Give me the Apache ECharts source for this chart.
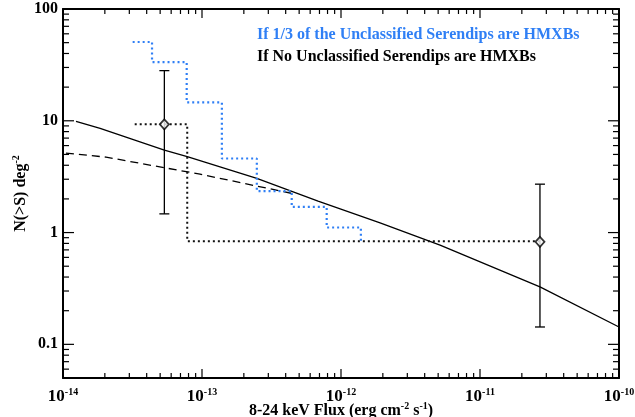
<!DOCTYPE html>
<html>
<head>
<meta charset="utf-8">
<script src="https://cdn.jsdelivr.net/npm/echarts@6/dist/echarts.min.js"></script>
<style>
html, body { margin: 0; padding: 0; background: #fff; }
#main { width: 635px; height: 417px; }
</style>
</head>
<body>
<div id="main"></div>
<script>
// 模型曲线 (实线)
var modelX = [1.24e-14, 1.85e-14, 5.36e-14, 7.83e-14, 2.48e-13, 6.84e-13, 1.91e-12, 5.16e-12, 2.70e-11, 1e-10];
var modelY = [9.9, 8.55, 5.47, 4.77, 3.05, 1.91, 1.22, 0.771, 0.327, 0.143];
// 虚线
var dashX = [1.05e-14, 2.04e-14, 9.68e-14, 4.44e-13];
var dashY = [5.14, 4.73, 3.33, 2.24];
// 蓝色阶梯 (1/3 unclassified)
var blueX = [3.17e-14, 4.37e-14, 7.76e-14, 1.39e-13, 2.48e-13, 4.42e-13, 7.89e-13, 1.39e-12];
var blueY = [50.7, 33.5, 14.6, 4.6, 2.35, 1.70, 1.11, 0.84];
// 黑色阶梯 (no unclassified)
var blackX = [3.28e-14, 7.83e-14, 2.70e-11];
var blackY = [9.29, 0.837, 0.837];
// 数据点 + 误差
var ptX = [5.36e-14, 2.70e-11];
var ptY = [9.29, 0.826];
var ptLo = [1.47, 0.143];
var ptHi = [28.1, 2.71];

// 刻度
var xMajor = [1e-14, 1e-13, 1e-12, 1e-11, 1e-10];
var yMajor = [0.1, 1, 10, 100];
var xRange = [1e-14, 1e-10];
var yRange = [0.05, 100];

function minorList(lo, hi) {
	var out = [];
	for (var e = lo; e < hi; e++) {
		for (var m = 2; m <= 9; m++) {
			out.push(Number((m * Math.pow(10, e)).toPrecision(3)));
		}
	}
	return out;
}
var xMinor = minorList(-14, -10);
var yMinor = minorList(-2, 2).filter(function (v) { return v >= 0.05 && v <= 100; });

var blue = '#2f7ff5';
var serif = 'Liberation Serif';

function pairs(xs, ys) {
	return xs.map(function (x, i) { return [x, ys[i]]; });
}

var myChart = echarts.init(document.getElementById('main'));

var supStyle = { fontFamily: serif, fontWeight: 'bold', fontSize: 10, color: '#000', padding: [0, 0, 9, 0] };

function xAxisDef(pos, showLabel) {
	var ax = {
		type: 'log',
		position: pos,
		min: xRange[0],
		max: xRange[1],
		axisLine: { show: true, onZero: false, lineStyle: { color: '#000', width: 2 } },
		axisTick: { show: false },
		axisLabel: { show: false },
		splitLine: { show: false }
	};
	if (showLabel) {
		ax.name = '{t|8-24 keV Flux (erg cm}{s|-2}{t| s}{s|-1}{t|)}';
		ax.nameLocation = 'middle';
		ax.nameGap = 23;
		ax.nameMoveOverlap = false;
		ax.nameTextStyle = {
			rich: { t: { fontFamily: serif, fontWeight: 'bold', fontSize: 16, color: '#000' }, s: supStyle }
		};
		ax.axisLabel = {
			show: true,
			customValues: xMajor,
			margin: 9,
			formatter: function (v) {
				return '{t|10}{s|' + Math.round(Math.log10(v)) + '}';
			},
			rich: {
				t: { fontFamily: serif, fontWeight: 'bold', fontSize: 17, color: '#000' },
				s: { fontFamily: serif, fontWeight: 'bold', fontSize: 10, color: '#000', padding: [0, 0, 10, 0] }
			}
		};
	}
	return ax;
}

function yAxisDef(pos, showLabel) {
	var ax = {
		type: 'log',
		position: pos,
		min: yRange[0],
		max: yRange[1],
		axisLine: { show: true, onZero: false, lineStyle: { color: '#000', width: 2 } },
		axisTick: { show: false },
		axisLabel: { show: false },
		splitLine: { show: false }
	};
	if (showLabel) {
		ax.name = '{t|N(>S) deg}{s|-2}';
		ax.nameLocation = 'middle';
		ax.nameRotate = 90;
		ax.nameGap = 33;
		ax.nameMoveOverlap = false;
		ax.nameTextStyle = {
			rich: { t: { fontFamily: serif, fontWeight: 'bold', fontSize: 16, color: '#000' }, s: supStyle }
		};
		ax.axisLabel = {
			show: true,
			customValues: yMajor,
			margin: 5,
			fontFamily: serif,
			fontWeight: 'bold',
			fontSize: 16,
			color: '#000',
			formatter: function (v) { return String(v); }
		};
	}
	return ax;
}

// 刻度线: 用坐标轴换算位置, 在四条边上向内画
var tickStyle = { stroke: '#000', lineWidth: 1.2 };
function xTickItem(params, api) {
	var v = api.value(0);
	var bot = api.coord([v, yRange[0]]);
	var top = api.coord([v, yRange[1]]);
	var len = api.value(2) ? 9 : 5;
	return {
		type: 'group',
		children: [
			{ type: 'line', shape: { x1: bot[0], y1: bot[1], x2: bot[0], y2: bot[1] - len }, style: tickStyle },
			{ type: 'line', shape: { x1: top[0], y1: top[1], x2: top[0], y2: top[1] + len }, style: tickStyle }
		]
	};
}
function yTickItem(params, api) {
	var v = api.value(1);
	var left = api.coord([xRange[0], v]);
	var right = api.coord([xRange[1], v]);
	var len = api.value(2) ? 11 : 6;
	return {
		type: 'group',
		children: [
			{ type: 'line', shape: { x1: left[0], y1: left[1], x2: left[0] + len, y2: left[1] }, style: tickStyle },
			{ type: 'line', shape: { x1: right[0], y1: right[1], x2: right[0] - len, y2: right[1] }, style: tickStyle }
		]
	};
}

var option = {
	animation: false,
	backgroundColor: '#fff',
	title: [{
		text: 'If 1/3 of the Unclassified Serendips are HMXBs',
		left: 252,
		top: 22,
		textStyle: { fontFamily: serif, fontWeight: 'bold', fontSize: 16, color: blue }
	}, {
		text: 'If No Unclassified Serendips are HMXBs',
		left: 252,
		top: 44,
		textStyle: { fontFamily: serif, fontWeight: 'bold', fontSize: 16, color: '#000' }
	}],
	grid: { left: 63, right: 16, top: 9, bottom: 39, containLabel: false, outerBoundsMode: 'none' },
	xAxis: [xAxisDef('bottom', true), xAxisDef('top', false)],
	yAxis: [yAxisDef('left', true), yAxisDef('right', false)],
	series: [{
		name: 'xticks',
		type: 'custom',
		silent: true,
		data: xMajor.map(function (v) { return [v, 1, 1]; }).concat(xMinor.map(function (v) { return [v, 1, 0]; })),
		renderItem: xTickItem,
		z: 5
	}, {
		name: 'yticks',
		type: 'custom',
		silent: true,
		data: yMajor.map(function (v) { return [1e-12, v, 1]; }).concat(yMinor.map(function (v) { return [1e-12, v, 0]; })),
		renderItem: yTickItem,
		z: 5
	}, {
		name: 'model',
		type: 'line',
		data: pairs(modelX, modelY),
		showSymbol: false,
		lineStyle: { color: '#000', width: 1.3 }
	}, {
		name: 'dashed',
		type: 'line',
		data: pairs(dashX, dashY),
		showSymbol: false,
		lineStyle: { color: '#000', width: 1.3, type: [8, 5] }
	}, {
		name: 'blue',
		type: 'line',
		step: 'end',
		data: pairs(blueX, blueY),
		showSymbol: false,
		lineStyle: { color: blue, width: 2.2, type: [2, 3] }
	}, {
		name: 'black',
		type: 'line',
		step: 'end',
		data: pairs(blackX, blackY),
		showSymbol: false,
		lineStyle: { color: '#111', width: 2, type: [2, 3] }
	}, {
		name: 'err',
		type: 'custom',
		data: ptX.map(function (x, i) { return [x, ptLo[i], ptHi[i]]; }),
		renderItem: function (params, api) {
			var lo = api.coord([api.value(0), api.value(1)]);
			var hi = api.coord([api.value(0), api.value(2)]);
			var w = 5;
			var st = { stroke: '#000', lineWidth: 1.3 };
			return {
				type: 'group',
				children: [
					{ type: 'line', shape: { x1: lo[0], y1: lo[1], x2: hi[0], y2: hi[1] }, style: st },
					{ type: 'line', shape: { x1: lo[0] - w, y1: lo[1], x2: lo[0] + w, y2: lo[1] }, style: st },
					{ type: 'line', shape: { x1: hi[0] - w, y1: hi[1], x2: hi[0] + w, y2: hi[1] }, style: st }
				]
			};
		},
		z: 3
	}, {
		name: 'points',
		type: 'scatter',
		data: pairs(ptX, ptY),
		symbol: 'diamond',
		symbolSize: [9, 10],
		itemStyle: { color: '#fff', borderColor: '#000', borderWidth: 1.8 },
		z: 4
	}]
};

myChart.setOption(option);
</script>
</body>
</html>
